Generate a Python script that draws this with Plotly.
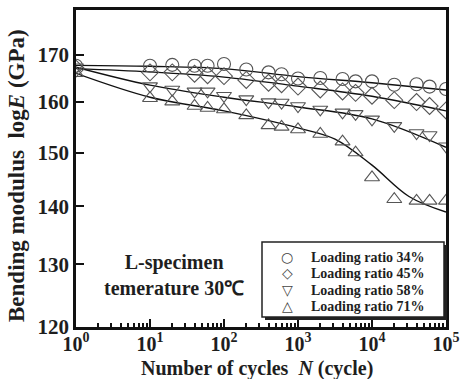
import plotly.graph_objects as go
import math

# ---------------- data ----------------
cycles = [1, 10, 20, 40, 60, 100, 200, 400, 600, 1000, 2000, 4000, 6000,
          10000, 20000, 40000, 60000, 100000]

e_34 = [167.6, 167.6, 167.8, 167.6, 167.6, 168.0, 166.8, 166.2, 165.8, 164.9,
        165.0, 164.8, 164.3, 164.3, 163.6, 163.7, 163.2, 162.7]
e_45 = [167.0, 166.2, 166.2, 165.9, 165.6, 165.4, 164.6, 164.0, 163.7, 163.2,
        162.6, 162.2, 161.9, 161.3, 160.4, 160.0, 159.2, 158.3]
e_58 = [167.3, 163.3, 162.6, 162.2, 162.2, 161.3, 160.6, 160.0, 159.9, 159.2,
        158.5, 157.9, 157.6, 156.5, 155.2, 153.8, 153.4, 151.2]
e_71 = [166.0, 160.8, 160.1, 159.2, 158.8, 158.5, 157.3, 155.3, 155.0, 154.5,
        153.6, 152.1, 150.0, 145.3, 141.3, 141.0, 141.0, 141.0]

# fitted trend curves
fit_x = [1, 10, 100, 1000, 10000, 100000]
fit_34 = [167.7, 167.5, 167.0, 165.3, 164.0, 162.5]
fit_45 = [167.0, 166.3, 165.2, 163.3, 161.2, 158.2]
fit_58 = [167.3, 163.5, 161.0, 159.0, 156.6, 151.0]
fit71_x = [1, 10, 100, 1000, 3162, 10000, 31623, 100000]
fit_71 = [166.0, 161.0, 158.2, 154.8, 152.6, 147.6, 141.8, 139.0]

labels = ["Loading ratio 34%", "Loading ratio 45%",
          "Loading ratio 58%", "Loading ratio 71%"]
symbols = ["circle-open", "diamond-open", "triangle-down-open", "triangle-up-open"]
legend_glyphs = ["○", "◇", "▽", "△"]

x_ticks = [1, 10, 100, 1000, 10000, 100000]
x_ticktext = ["10<sup>0</sup>", "10<sup>1</sup>", "10<sup>2</sup>",
              "10<sup>3</sup>", "10<sup>4</sup>", "10<sup>5</sup>"]
y_ticks = [120, 130, 140, 150, 160, 170]

# ---------------- figure ----------------
FONT = "Liberation Serif"
INK = "#1e1e1e"
W, H = 460, 379
ML, MR, MT, MB = 76, 14, 10, 52
PW, PH = W - ML - MR, H - MT - MB

fig = go.Figure()

fits = [(fit_x, fit_34), (fit_x, fit_45), (fit_x, fit_58), (fit71_x, fit_71)]
for fx, fy in fits:
    fig.add_trace(go.Scatter(x=fx, y=fy, mode="lines",
                             line=dict(color="#111111", width=1.4, shape="spline", smoothing=1.0),
                             showlegend=False, hoverinfo="skip"))

series = [e_34, e_45, e_58, e_71]
for vals, name, sym in zip(series, labels, symbols):
    fig.add_trace(go.Scatter(x=cycles, y=vals, mode="markers", name=name,
                             showlegend=False,
                             marker=dict(symbol=sym, size=13, color="#555555",
                                         line=dict(width=1.1, color="#555555"))))


def px2paper_x(px):
    return (px - ML) / PW


def px2paper_y(py):
    return (H - MB - py) / PH


# legend box with shadow
lx0, lx1, ly0, ly1 = 262, 444, 242, 317
fig.add_shape(type="rect", xref="paper", yref="paper",
              x0=px2paper_x(lx0 + 3), x1=px2paper_x(lx1 + 3),
              y0=px2paper_y(ly1 + 3), y1=px2paper_y(ly0 + 3),
              fillcolor="#222222", line=dict(width=0), layer="above")
fig.add_shape(type="rect", xref="paper", yref="paper",
              x0=px2paper_x(lx0), x1=px2paper_x(lx1),
              y0=px2paper_y(ly1), y1=px2paper_y(ly0),
              fillcolor="white", line=dict(color="#222222", width=1.5), layer="above")

row_y = [257, 273, 290, 306]
for glyph, lab, ry in zip(legend_glyphs, labels, row_y):
    fig.add_annotation(xref="paper", yref="paper", x=px2paper_x(287), y=px2paper_y(ry),
                       text=glyph, showarrow=False, xanchor="center", yanchor="middle",
                       font=dict(family="DejaVu Sans", size=14, color="#444444"))
    fig.add_annotation(xref="paper", yref="paper", x=px2paper_x(309), y=px2paper_y(ry),
                       text="<b>" + lab + "</b>", showarrow=False, xanchor="left",
                       yanchor="middle",
                       font=dict(family=FONT, size=14, color=INK))

fig.add_annotation(xref="paper", yref="paper",
                   x=px2paper_x(174), y=px2paper_y(275),
                   text="<b>L-specimen<br>temerature 30℃</b>", showarrow=False,
                   font=dict(family=FONT, size=20, color=INK),
                   align="center", xanchor="center", yanchor="middle")

# axis titles as annotations (positioned like the reference)
fig.add_annotation(xref="paper", yref="paper",
                   x=px2paper_x(16), y=px2paper_y(176),
                   text="<b>Bending modulus  log<i>E</i> (GPa)</b>", showarrow=False,
                   textangle=-90, xanchor="center", yanchor="middle",
                   font=dict(family=FONT, size=23, color=INK))
fig.add_annotation(xref="paper", yref="paper",
                   x=px2paper_x(257), y=px2paper_y(368),
                   text="<b>Number of cycles  <i>N</i> (cycle)</b>", showarrow=False,
                   xanchor="center", yanchor="middle",
                   font=dict(family=FONT, size=20, color=INK))

axis_common = dict(showline=True, linecolor="#111111", linewidth=2.5, mirror=True,
                   ticks="inside", tickcolor="#111111", tickwidth=2, ticklen=8,
                   showgrid=False, zeroline=False, ticklabeloverflow="allow",
                   automargin=False)

minor_vals = [m * 10 ** d for d in range(0, 5) for m in range(2, 10)]

fig.update_layout(
    width=W, height=H,
    margin=dict(l=ML, r=MR, t=MT, b=MB, pad=0, autoexpand=False),
    paper_bgcolor="white", plot_bgcolor="white",
    font=dict(family=FONT, color=INK),
    showlegend=False,
    xaxis=dict(type="log", range=[0, 5], tickmode="array", tickvals=x_ticks,
               ticktext=["<b>" + t + "</b>" for t in x_ticktext],
               ticklabelstandoff=-3,
               tickfont=dict(family=FONT, size=20, color=INK),
               minor=dict(tickmode="array", tickvals=minor_vals, ticks="inside",
                          ticklen=4, tickwidth=1.5, tickcolor="#111111"),
               **axis_common),
    yaxis=dict(type="log", range=[math.log10(120), math.log10(180)],
               tickmode="array", tickvals=y_ticks,
               ticktext=["<b>%d</b>" % v for v in y_ticks],
               tickfont=dict(family=FONT, size=21, color=INK),
               **axis_common),
)

fig.write_html("out.html")
